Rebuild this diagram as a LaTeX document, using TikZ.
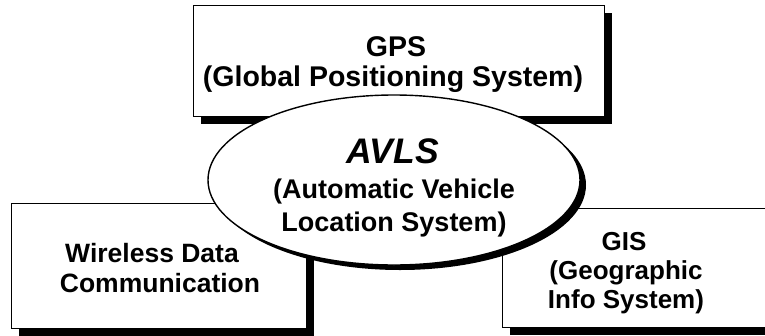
\documentclass[tikz,border=0pt]{standalone}
\usepackage{fontspec}
\setmainfont{Liberation Sans}
\usetikzlibrary{shapes.geometric,shadows}
\begin{document}
\begin{tikzpicture}[x=1pt,y=-1pt,
  hardshadow/.style={drop shadow={shadow xshift=#1, shadow yshift=-#1, fill=black, opacity=1}},
  box/.style={draw=black, line width=1.4pt, fill=white, inner sep=0pt, anchor=north west, hardshadow=7pt},
  oval/.style={ellipse, draw=black, line width=1.4pt, fill=white, inner sep=0pt,
    drop shadow={shadow xshift=6pt, shadow yshift=-5pt, fill=black, opacity=1}},
  lbl/.style={font=\fontsize{#1}{#1}\selectfont\bfseries, anchor=base, inner sep=0pt},
  lbl/.default=27,
  title/.style={font=\fontsize{35.5}{35.5}\selectfont\bfseries\itshape, anchor=base, inner sep=0pt}]
\useasboundingbox (0,0) rectangle (765,335);
\clip (0,0) rectangle (765,335);

% the three surrounding subsystems
\node[box, minimum width=411pt, minimum height=111pt] (gpsbox) at (193,5) {};
\node[box, minimum width=295pt, minimum height=125pt] (wdcbox) at (11,203) {};
\node[box, minimum width=300pt, minimum height=119pt] (gisbox) at (502,208) {};

% the central system
\node[oval, minimum width=372pt, minimum height=170pt] (avls) at (394,180) {};

% labels
\node[lbl=28.5] (gps1) at (396,56) {GPS};
\node[lbl=28.5] (gps2) at (393,86) {(Global Positioning System)};

\node[title] (avls1) at (393,163) {AVLS};
\node[lbl] (avls2) at (394,198) {(Automatic Vehicle};
\node[lbl] (avls3) at (394,231) {Location System)};

\node[lbl=26.5] (wdc1) at (152,262) {Wireless Data};
\node[lbl=26.5] (wdc2) at (160,292) {Communication};

\node[lbl=26] (gis1) at (624,250) {GIS};
\node[lbl=26] (gis2) at (626,279) {(Geographic};
\node[lbl=26] (gis3) at (626,308) {Info System)};
\end{tikzpicture}
\end{document}
